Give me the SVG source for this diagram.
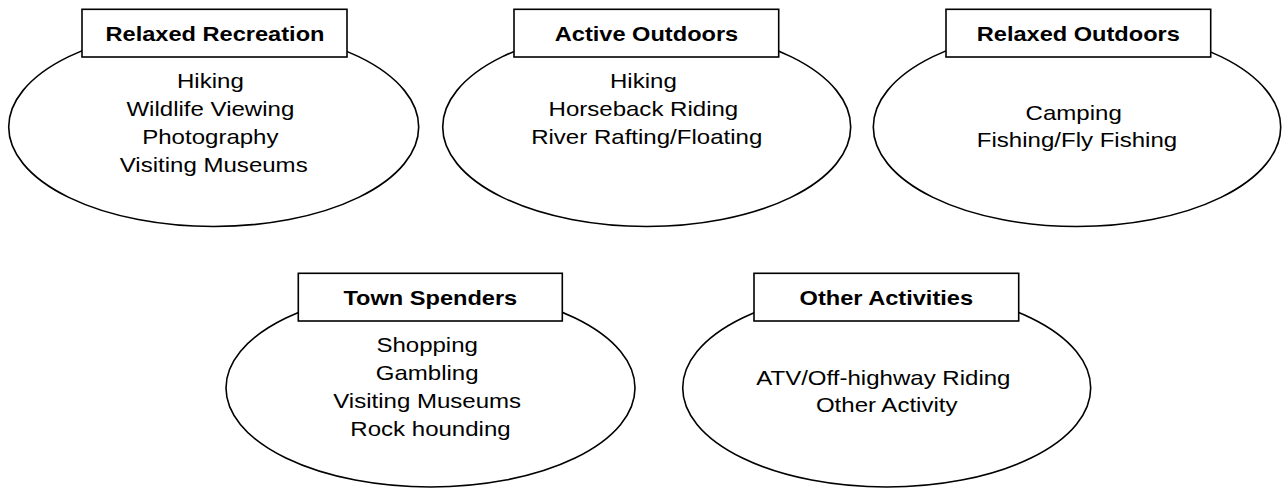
<svg xmlns="http://www.w3.org/2000/svg" width="1284" height="489" viewBox="0 0 1284 489">
<style>
.shape{fill:#fff;stroke:#000;stroke-width:1.6}
.title{font-family:"Liberation Sans",Arial,sans-serif;font-weight:bold;font-size:20px;text-anchor:middle;fill:#000}
.body{font-family:"Liberation Sans",Arial,sans-serif;font-size:21px;text-anchor:middle;fill:#000}
</style>
<rect width="1284" height="489" fill="#fff"/>
<g id="relaxed-recreation">
<ellipse class="shape" cx="213.7" cy="127" rx="205" ry="99.5"/>
<rect class="shape" x="82" y="9.3" width="265" height="47.7"/>
<text class="title" transform="translate(215,40.5) scale(1.18,1)" x="0" y="0">Relaxed Recreation</text>
<text class="body" transform="translate(213.7,0) scale(1.145,1)">
<tspan x="0" y="88.5">Hiking</tspan>
<tspan x="0" y="116.5">Wildlife Viewing</tspan>
<tspan x="0" y="144.5">Photography</tspan>
<tspan x="0" y="172.5">Visiting Museums</tspan>
</text>
</g>
<g id="active-outdoors">
<ellipse class="shape" cx="646.7" cy="127" rx="204" ry="99.5"/>
<rect class="shape" x="514" y="9.3" width="264.7" height="47.7"/>
<text class="title" transform="translate(646.5,40.5) scale(1.18,1)" x="0" y="0">Active Outdoors</text>
<text class="body" transform="translate(646.7,0) scale(1.145,1)">
<tspan x="0" y="88.5">Hiking</tspan>
<tspan x="0" y="116.5">Horseback Riding</tspan>
<tspan x="0" y="144.5">River Rafting/Floating</tspan>
</text>
</g>
<g id="relaxed-outdoors">
<ellipse class="shape" cx="1077" cy="127" rx="203.7" ry="99.5"/>
<rect class="shape" x="946" y="9.3" width="264.7" height="47.7"/>
<text class="title" transform="translate(1078.3,40.5) scale(1.18,1)" x="0" y="0">Relaxed Outdoors</text>
<text class="body" transform="translate(1077,0) scale(1.145,1)">
<tspan x="0" y="120">Camping</tspan>
<tspan x="0" y="147.5">Fishing/Fly Fishing</tspan>
</text>
</g>
<g id="town-spenders">
<ellipse class="shape" cx="430.5" cy="388" rx="204.5" ry="99"/>
<rect class="shape" x="298.3" y="273.3" width="264" height="47.7"/>
<text class="title" transform="translate(430.3,304.5) scale(1.18,1)" x="0" y="0">Town Spenders</text>
<text class="body" transform="translate(430.5,0) scale(1.145,1)">
<tspan x="0" y="352">Shopping</tspan>
<tspan x="0" y="380">Gambling</tspan>
<tspan x="0" y="408">Visiting Museums</tspan>
<tspan x="0" y="436">Rock hounding</tspan>
</text>
</g>
<g id="other-activities">
<ellipse class="shape" cx="886.7" cy="388" rx="204" ry="99"/>
<rect class="shape" x="754" y="273.3" width="264.7" height="47.7"/>
<text class="title" transform="translate(886.3,304.5) scale(1.18,1)" x="0" y="0">Other Activities</text>
<text class="body" transform="translate(886.7,0) scale(1.145,1)">
<tspan x="0" y="385">ATV/Off-highway Riding</tspan>
<tspan x="0" y="412.5">Other Activity</tspan>
</text>
</g>
<g id="connectors"></g>
</svg>
